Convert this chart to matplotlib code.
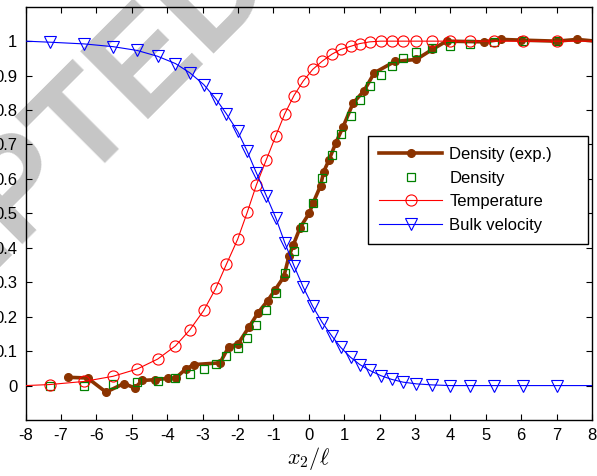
""" density / temperature / bulk velocity profiles across the shock """

import numpy as np
import matplotlib
matplotlib.use('Agg')
import matplotlib.pyplot as plt

plt.rcParams['font.family'] = ['Liberation Sans', 'DejaVu Sans']
plt.rcParams['mathtext.fontset'] = 'cm'
plt.rcParams['axes.unicode_minus'] = False

# simulation grid (same for density, temperature and bulk velocity)
x_sim = [-7.32, -6.35, -5.53, -4.85, -4.27, -3.77, -3.36, -2.97, -2.63, -2.33,
         -2.01, -1.74, -1.48, -1.20, -0.93, -0.68, -0.42, -0.16, 0.11, 0.38,
         0.65, 0.90, 1.18, 1.44, 1.72, 2.03, 2.34, 2.66, 3.04, 3.48,
         3.99, 4.55, 5.23, 6.04, 7.00]

density = [0.0, 0.0, 0.004, 0.009, 0.014, 0.021, 0.033, 0.047, 0.063, 0.085,
           0.109, 0.139, 0.175, 0.218, 0.270, 0.327, 0.391, 0.461, 0.531, 0.602,
           0.669, 0.730, 0.784, 0.830, 0.871, 0.903, 0.929, 0.952, 0.969, 0.981,
           0.987, 0.992, 0.997, 1.0, 1.0]

temperature = [0.003, 0.012, 0.027, 0.048, 0.077, 0.115, 0.162, 0.218, 0.282, 0.352,
               0.425, 0.503, 0.583, 0.656, 0.726, 0.789, 0.842, 0.884, 0.918, 0.942,
               0.962, 0.976, 0.985, 0.993, 0.998, 1.0, 1.0, 1.0, 1.0, 1.0,
               1.0, 1.0, 1.0, 1.0, 1.0]

velocity = [0.997, 0.992, 0.984, 0.973, 0.956, 0.935, 0.908, 0.874, 0.833, 0.789,
            0.738, 0.680, 0.617, 0.551, 0.486, 0.415, 0.348, 0.286, 0.230, 0.183,
            0.144, 0.111, 0.082, 0.061, 0.044, 0.029, 0.018, 0.010, 0.005, 0.002,
            0.0, 0.0, 0.0, 0.0, 0.0]

# curve values at the plot edges x = -8 and x = 8
temp_edges = [0.0, 1.0]
vel_edges = [1.0, 0.0]

# experiment
x_exp = [-6.80, -6.25, -5.73, -5.22, -4.92, -4.70, -4.35, -3.97, -3.76, -3.48,
         -3.24, -2.51, -2.26, -2.00, -1.69, -1.43, -1.16, -0.96, -0.71, -0.56,
         -0.44, -0.25, 0.01, 0.12, 0.33, 0.42, 0.57, 0.76, 0.97, 1.25,
         1.56, 1.85, 2.43, 3.04, 3.49, 3.89, 4.94, 5.44, 6.00, 7.00,
         7.58, 8.10]
density_exp = [0.024, 0.022, -0.019, 0.006, -0.007, 0.015, 0.017, 0.021, 0.022, 0.048,
               0.061, 0.066, 0.113, 0.121, 0.170, 0.212, 0.247, 0.277, 0.315, 0.376,
               0.408, 0.458, 0.500, 0.530, 0.580, 0.621, 0.655, 0.704, 0.752, 0.820,
               0.856, 0.908, 0.941, 0.947, 0.976, 1.0, 0.998, 1.005, 1.003, 1.0,
               1.005, 1.0]

x_ticks = list(range(-8, 9))
y_ticks = [0, 0.1, 0.2, 0.3, 0.4, 0.5, 0.6, 0.7, 0.8, 0.9, 1]
y_tick_labels = ['0', '0.1', '0.2', '0.3', '0.4', '0.5', '0.6', '0.7', '0.8', '0.9', '1']

BROWN = '#8b3300'
GREEN = '#008000'

fig = plt.figure(figsize=(5.97, 4.76), dpi=100)
ax = fig.add_axes([0.043, 0.1176, 0.9486, 0.8683])
ax.patch.set_visible(False)

# watermark behind everything
fig.text(0.423, 1.082, 'ACCEPTED', fontsize=100, fontweight='bold', color='#c6c6c6',
         rotation=45, rotation_mode='anchor', ha='right', va='center', zorder=-5)

n = len(x_sim)
ax.plot(x_exp, density_exp, '-o', color=BROWN, lw=2.6, ms=5.5, mec=BROWN, mfc=BROWN,
        label='Density (exp.)', zorder=2)
ax.plot(x_sim, density, 's', color=GREEN, ms=6, mfc='none', mew=0.9,
        label='Density', zorder=3)
ax.plot([-8] + x_sim + [8], temp_edges[:1] + temperature + temp_edges[1:], '-o',
        color='r', lw=0.8, ms=8, mfc='none', mew=0.8, markevery=slice(1, n + 1),
        label='Temperature', zorder=4)
ax.plot([-8] + x_sim + [8], vel_edges[:1] + velocity + vel_edges[1:], '-v',
        color='b', lw=0.8, ms=8, mfc='none', mew=0.8, markevery=slice(1, n + 1),
        label='Bulk velocity', zorder=5)

ax.set_xlim(-8, 8)
ax.set_ylim(-0.1, 1.1)
ax.set_xticks(x_ticks)
ax.set_yticks(y_ticks)
ax.set_yticklabels(y_tick_labels)
ax.tick_params(direction='in', length=4, width=0.8, top=True, right=True,
               labelsize=12, pad=6)
for s in ax.spines.values():
    s.set_linewidth(1.0)

ax.set_xlabel(r'$x_2/\ell$', fontsize=16, labelpad=1)

leg = ax.legend(loc='upper right', bbox_to_anchor=(0.6045, 0.4186, 0.3885, 0.2684),
                mode='expand', borderaxespad=0, fontsize=12, numpoints=1,
                handlelength=3.8, handletextpad=0.42, labelspacing=0.52,
                borderpad=0.65, fancybox=False, framealpha=1)
leg.get_frame().set_edgecolor('black')
leg.get_frame().set_linewidth(1.0)

fig.savefig('out.png', dpi=100)
